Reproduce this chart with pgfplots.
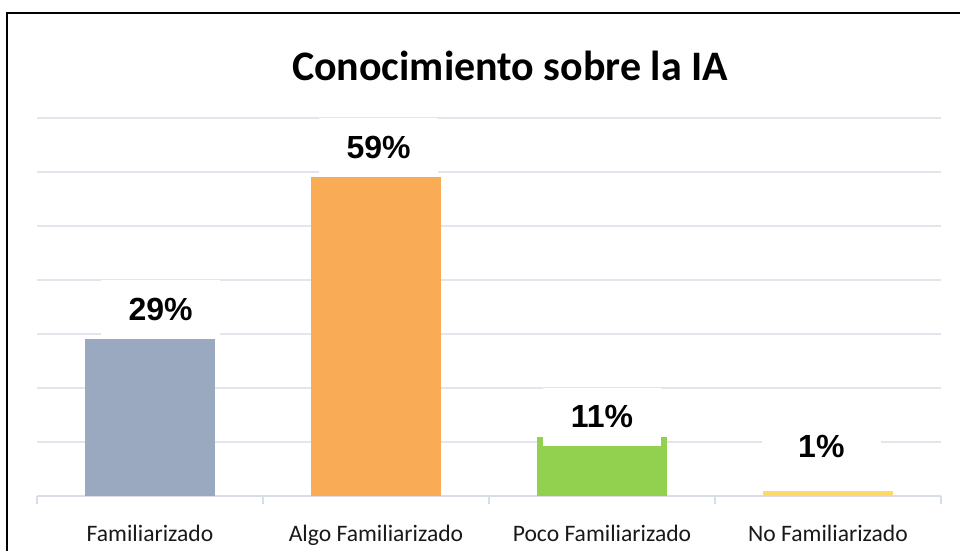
\documentclass[border=0pt]{standalone}
\usepackage{pgfplots}
\pgfplotsset{compat=1.18}
\usepackage{fontspec}
\setmainfont{Carlito}
\newfontfamily\arialfont{Liberation Sans}
\definecolor{cgray}{HTML}{9AA9BF}
\definecolor{corange}{HTML}{F9AB55}
\definecolor{cgreen}{HTML}{92D050}
\definecolor{cyellow}{HTML}{FFD966}
\definecolor{gridc}{HTML}{E2E6EC}
\definecolor{axisc}{HTML}{D9DEE6}
\pgfplotsset{
  lbl/.style 2 args={nodes near coords={\arialfont\bfseries\fontsize{24}{28}\selectfont\pgfmathprintnumber{\pgfplotspointmeta}\%},
    point meta=y,
    nodes near coords style={anchor=center, yshift=#1, xshift=#2, fill=white, text=black,
      minimum width=89pt, minimum height=43.5pt, inner sep=0pt}},
  mybar/.style={ybar, bar width=97.5pt, bar shift=0pt, draw=none, fill=#1},
}
\begin{document}
\begin{tikzpicture}
\useasboundingbox (0,0) rectangle (720pt,-413.25pt);
\draw[line width=1.6pt] (5.25pt,-413.25pt) -- (5.25pt,-9.75pt) -- (720pt,-9.75pt);
\node[font=\bfseries\fontsize{31.5}{38}\selectfont] at (382.5pt,-49.5pt) {Conocimiento sobre la IA};
\begin{axis}[
  at={(27.75pt,-372pt)}, anchor=south west,
  scale only axis, width=678pt, height=283.5pt,
  xmin=-0.5, xmax=3.5, ymin=0, ymax=70,
  clip=false,
  /pgf/number format/assume math mode=true,
  axis x line*=bottom, axis y line*=left,
  x axis line style={color=axisc, line width=1.1pt},
  y axis line style={draw=none},
  ytick={10,20,...,70}, yticklabels={}, ytick style={draw=none},
  ymajorgrids, grid style={color=gridc, line width=1.1pt},
  xtick={0,1,2,3},
  xticklabels={Familiarizado, Algo Familiarizado, Poco Familiarizado, No Familiarizado},
  major x tick style={draw=none},
  minor xtick={-0.5,0.5,1.5,2.5,3.5},
  minor x tick style={color=axisc, line width=1.1pt},
  minor tick length=6pt, tick align=outside,
  xticklabel style={font=\fontsize{17.7}{21}\selectfont, anchor=base, yshift=-30pt, text=black!90},
]
\addplot[mybar=cgray, lbl={22.5pt}{8pt}] coordinates {(0,29)};
\addplot[mybar=corange, lbl={22.5pt}{2pt}] coordinates {(1,59)};
\addplot[mybar=cgreen, lbl={15pt}{0pt}] coordinates {(2,11)};
\addplot[mybar=cyellow, lbl={33pt}{-5pt}] coordinates {(3,1)};
\end{axis}
\end{tikzpicture}
\end{document}
